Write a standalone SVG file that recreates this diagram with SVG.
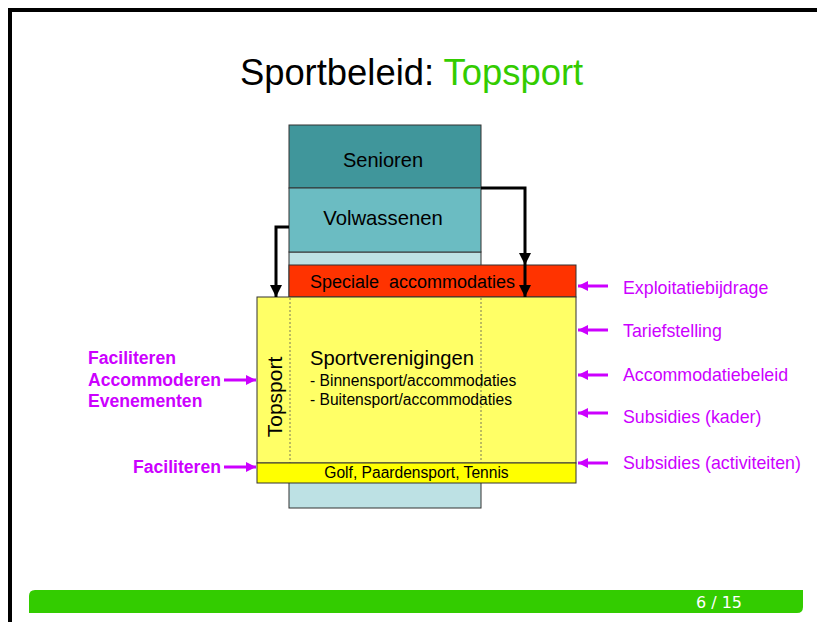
<svg xmlns="http://www.w3.org/2000/svg" width="817" height="622" viewBox="0 0 817 622">
<defs>
<marker id="ah" viewBox="0 0 10 10" refX="10" refY="5" markerWidth="4" markerHeight="4" orient="auto" markerUnits="strokeWidth"><path d="M0,0 L10,5 L0,10 z" fill="#000"/></marker>
<marker id="mh" viewBox="0 0 10 10" refX="10" refY="5" markerWidth="3.4" markerHeight="3.4" orient="auto" markerUnits="strokeWidth"><path d="M0,0 L10,5 L0,10 z" fill="#CC00FF"/></marker>
</defs>
<style>
text{font-family:"Liberation Sans",Arial,sans-serif}
.box{stroke:#333;stroke-width:1}
.lbl{fill:#CC00FF;font-size:17.8px}
.lblb{fill:#CC00FF;font-size:17.6px;font-weight:bold}
.conn{fill:none;stroke:#000;stroke-width:3;marker-end:url(#ah)}
.mag{fill:none;stroke:#CC00FF;stroke-width:3;marker-end:url(#mh)}
.dot{stroke:#555;stroke-width:0.8;stroke-dasharray:2,2}
</style>
<rect width="817" height="622" fill="#fff"/>
<path d="M10,622 V10 H817" fill="none" stroke="#000" stroke-width="4"/>
<path d="M35,590 H803 V607 Q803,613 797,613 H29 V596 Q29,590 35,590 z" fill="#33CC00"/>
<text x="719" y="608" style="font-family:'DejaVu Sans',sans-serif" font-size="16" fill="#fff" text-anchor="middle">6 / 15</text>
<text x="411.5" y="85" font-size="36.4" text-anchor="middle">Sportbeleid: <tspan fill="#33CC00">Topsport</tspan></text>

<g id="lightblue"><rect class="box" x="289" y="252" width="192" height="256" fill="#BDE1E4"/></g>
<g id="senioren"><rect class="box" x="289" y="125" width="192" height="63" fill="#40969B"/><text x="383" y="167" font-size="20" text-anchor="middle">Senioren</text></g>
<g id="volwassenen"><rect class="box" x="289" y="188" width="192" height="64" fill="#6BBCC2"/><text x="383" y="225" font-size="20.3" text-anchor="middle">Volwassenen</text></g>
<g id="speciale"><rect class="box" x="289" y="265" width="287" height="32" fill="#FF3300"/><text x="310" y="288" font-size="18" xml:space="preserve">Speciale  accommodaties</text></g>
<g id="sportverenigingen"><rect class="box" x="257" y="297" width="319" height="166" fill="#FFFF66"/>
<line class="dot" x1="290" y1="298" x2="290" y2="463"/><line class="dot" x1="481" y1="298" x2="481" y2="463"/>
<text x="310" y="365" font-size="20.2">Sportverenigingen</text>
<text x="310" y="386" font-size="15.6">- Binnensport/accommodaties</text>
<text x="310" y="405" font-size="15.6">- Buitensport/accommodaties</text>
<text transform="translate(282,397) rotate(-90)" font-size="21" text-anchor="middle">Topsport</text></g>
<g id="golf"><rect class="box" x="257" y="463" width="319" height="20" fill="#FFFF00"/><text x="416.5" y="478" font-size="15.6" text-anchor="middle">Golf, Paardensport, Tennis</text></g>

<g id="connectors">
<path class="conn" d="M481,188 H525 V265"/>
<path class="conn" d="M525,265 V297"/>
<path class="conn" d="M289,227 H276 V297"/>
<path class="mag" d="M224,380 H256"/>
<path class="mag" d="M224,467 H256"/>
<path class="mag" d="M608,286 H578"/>
<path class="mag" d="M608,330 H578"/>
<path class="mag" d="M608,375 H578"/>
<path class="mag" d="M608,413 H578"/>
<path class="mag" d="M608,463 H578"/>
</g>

<g id="left-labels">
<text class="lblb" x="88" y="364">Faciliteren</text>
<text class="lblb" x="88" y="386">Accommoderen</text>
<text class="lblb" x="88" y="407">Evenementen</text>
<text class="lblb" x="133" y="473">Faciliteren</text>
</g>
<g id="right-labels">
<text class="lbl" x="623" y="294">Exploitatiebijdrage</text>
<text class="lbl" x="623" y="337">Tariefstelling</text>
<text class="lbl" x="623" y="381">Accommodatiebeleid</text>
<text class="lbl" x="623" y="423">Subsidies (kader)</text>
<text class="lbl" x="623" y="469">Subsidies (activiteiten)</text>
</g>
</svg>
